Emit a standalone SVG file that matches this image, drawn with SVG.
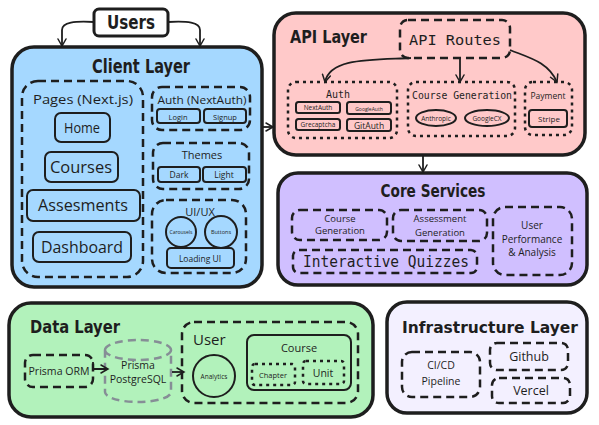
<svg xmlns="http://www.w3.org/2000/svg" width="599" height="425" viewBox="0 0 599 425">
<defs>
<marker id="ah" markerWidth="10" markerHeight="10" refX="8" refY="5" orient="auto" markerUnits="userSpaceOnUse">
<path d="M1,1 L8,5 L1,9" fill="none" stroke="#1e1e1e" stroke-width="1.5" stroke-linecap="round"/>
</marker>
</defs>
<style>
.layer{stroke:#1e1e1e;stroke-width:3.5}
.dash{fill:none;stroke:#1e1e1e;stroke-width:2.5;stroke-dasharray:8 5}
.dot{fill:none;stroke:#1e1e1e;stroke-width:2.5;stroke-dasharray:3 4}
.solid{fill:none;stroke:#1e1e1e;stroke-width:2}
.thin{fill:none;stroke:#1e1e1e;stroke-width:1.5}
.title{font-family:"DejaVu Sans Condensed","DejaVu Sans",sans-serif;font-weight:bold;fill:#1e1e1e}
.hand{font-family:"Open Sans","Liberation Sans",sans-serif;fill:#1e1e1e}
.mono{font-family:"DejaVu Sans Mono","Liberation Mono",monospace;fill:#1e1e1e}
.conn{fill:none;stroke:#1e1e1e;stroke-width:1.8;marker-end:url(#ah)}
</style>
<rect width="599" height="425" fill="#ffffff"/>

<g id="users">
<rect x="94" y="9" width="74" height="27" rx="5" fill="#ffffff" stroke="#1e1e1e" stroke-width="3"/>
<text class="title" x="131" y="29" font-size="19" text-anchor="middle" textLength="48" lengthAdjust="spacingAndGlyphs">Users</text>
</g>

<g id="client-layer">
<rect class="layer" x="12" y="47" width="250" height="240" rx="22" fill="#a5d8ff"/>
<text class="title" x="141" y="73" font-size="19" text-anchor="middle" textLength="98" lengthAdjust="spacingAndGlyphs">Client Layer</text>
<g id="pages">
<rect class="dash" x="22" y="81" width="121" height="196" rx="16"/>
<text class="hand" x="83" y="104" font-size="13" text-anchor="middle" textLength="100" lengthAdjust="spacingAndGlyphs">Pages (Next.js)</text>
</g>
<g id="home"><rect class="solid" x="55" y="113" width="55" height="29" rx="6"/>
<text class="hand" x="82" y="133" font-size="15" text-anchor="middle" textLength="36" lengthAdjust="spacingAndGlyphs">Home</text></g>
<g id="courses"><rect class="solid" x="45" y="152" width="73" height="30" rx="6"/>
<text class="hand" x="81" y="173" font-size="16" text-anchor="middle" textLength="62" lengthAdjust="spacingAndGlyphs">Courses</text></g>
<g id="assesments"><rect class="solid" x="27" y="190" width="113" height="31" rx="6"/>
<text class="hand" x="83" y="211" font-size="16" text-anchor="middle" textLength="90" lengthAdjust="spacingAndGlyphs">Assesments</text></g>
<g id="dashboard"><rect class="solid" x="33" y="232" width="98" height="30" rx="6"/>
<text class="hand" x="82" y="253" font-size="16" text-anchor="middle" textLength="82" lengthAdjust="spacingAndGlyphs">Dashboard</text></g>

<g id="auth-nextauth">
<rect class="dash" x="152" y="87" width="98" height="43" rx="10"/>
<text class="hand" x="202" y="104" font-size="11" text-anchor="middle" textLength="89" lengthAdjust="spacingAndGlyphs">Auth (NextAuth)</text>
</g>
<g id="login"><rect class="solid" x="157" y="109" width="43" height="14" rx="3"/>
<text class="hand" x="178" y="119.5" font-size="7.5" text-anchor="middle">Login</text></g>
<g id="signup"><rect class="solid" x="204" y="109" width="42" height="14" rx="3"/>
<text class="hand" x="225" y="119.5" font-size="7.5" text-anchor="middle">Signup</text></g>

<g id="themes">
<rect class="dash" x="153" y="143" width="96" height="46" rx="10"/>
<text class="hand" x="202" y="159" font-size="11" text-anchor="middle">Themes</text>
</g>
<g id="dark"><rect class="solid" x="158" y="167" width="42" height="15" rx="3"/>
<text class="hand" x="179" y="178" font-size="8.5" text-anchor="middle">Dark</text></g>
<g id="light"><rect class="solid" x="203" y="167" width="43" height="15" rx="3"/>
<text class="hand" x="224" y="178" font-size="8.5" text-anchor="middle">Light</text></g>

<g id="uiux">
<rect class="dash" x="152" y="200" width="94" height="73" rx="14"/>
<text class="hand" x="200" y="216" font-size="11" text-anchor="middle">UI/UX</text>
</g>
<g id="carousels"><circle class="solid" cx="181" cy="232" r="15"/>
<text class="hand" x="181" y="234" font-size="5" text-anchor="middle">Carousels</text></g>
<g id="buttons"><circle class="solid" cx="221" cy="232" r="16"/>
<text class="hand" x="221" y="234" font-size="5.5" text-anchor="middle">Buttons</text></g>
<g id="loading-ui"><rect class="solid" x="167" y="248" width="67" height="20" rx="4"/>
<text class="hand" x="200" y="261.5" font-size="8.5" text-anchor="middle">Loading UI</text></g>
</g>

<g id="api-layer">
<rect class="layer" x="274" y="13" width="311" height="142" rx="22" fill="#ffc9c9"/>
<text class="title" x="290" y="43" font-size="17" textLength="77" lengthAdjust="spacingAndGlyphs">API Layer</text>
<g id="api-routes"><rect class="dash" x="400" y="20" width="110" height="38" rx="8"/>
<text class="mono" x="455" y="45" font-size="14" text-anchor="middle" textLength="92" lengthAdjust="spacingAndGlyphs">API Routes</text></g>
<g id="auth">
<rect class="dot" x="288" y="82" width="109" height="56" rx="8"/>
<text class="mono" x="338" y="98" font-size="10" text-anchor="middle">Auth</text>
</g>
<g id="nextauth"><rect class="solid" x="296" y="102" width="44" height="11" rx="2.5"/>
<text class="hand" x="318" y="110" font-size="6.5" text-anchor="middle">NextAuth</text></g>
<g id="googleauth"><rect class="solid" x="347" y="102" width="44" height="12" rx="2.5"/>
<text class="hand" x="369" y="110.5" font-size="5" text-anchor="middle">GoogleAuth</text></g>
<g id="grecaptcha"><rect class="solid" x="296" y="119" width="44" height="11" rx="2.5"/>
<text class="hand" x="318" y="127" font-size="6.5" text-anchor="middle">Grecaptcha</text></g>
<g id="gitauth"><rect class="solid" x="347" y="119" width="44" height="12" rx="2.5"/>
<text class="hand" x="369" y="128.5" font-size="8.5" text-anchor="middle">GitAuth</text></g>
<g id="course-generation">
<rect class="dot" x="408" y="82" width="107" height="54" rx="8"/>
<text class="mono" x="462" y="99" font-size="10" text-anchor="middle" textLength="100" lengthAdjust="spacingAndGlyphs">Course Generation</text>
</g>
<g id="anthropic"><ellipse class="solid" cx="436" cy="118" rx="20" ry="8"/>
<text class="hand" x="436" y="120.5" font-size="6.5" text-anchor="middle">Anthropic</text></g>
<g id="googlecx"><ellipse class="solid" cx="487" cy="118" rx="22" ry="8"/>
<text class="hand" x="487" y="120.5" font-size="6.5" text-anchor="middle">GoogleCX</text></g>
<g id="payment">
<rect class="dot" x="525" y="82" width="47" height="53" rx="8"/>
<text class="hand" x="548" y="99" font-size="8.5" text-anchor="middle">Payment</text>
</g>
<g id="stripe"><rect class="solid" x="529" y="110" width="38" height="17" rx="3"/>
<text class="hand" x="549" y="121.5" font-size="8" text-anchor="middle">Stripe</text></g>
</g>

<g id="core-services">
<rect class="layer" x="278" y="173" width="309" height="112" rx="20" fill="#d0bfff"/>
<text class="title" x="433" y="197" font-size="17" text-anchor="middle" textLength="105" lengthAdjust="spacingAndGlyphs">Core Services</text>
<g id="core-course-generation"><rect class="dash" x="292" y="210" width="95" height="30" rx="8"/>
<text class="hand" x="340" y="222" font-size="9.5" text-anchor="middle">Course</text>
<text class="hand" x="340" y="234" font-size="9.5" text-anchor="middle">Generation</text></g>
<g id="assessment-generation"><rect class="dash" x="393" y="210" width="94" height="31" rx="8"/>
<text class="hand" x="440" y="222" font-size="9.5" text-anchor="middle">Assessment</text>
<text class="hand" x="440" y="236" font-size="9.5" text-anchor="middle">Generation</text></g>
<g id="user-performance"><rect class="dash" x="493" y="207" width="79" height="68" rx="12"/>
<text class="hand" x="532" y="229" font-size="10" text-anchor="middle">User</text>
<text class="hand" x="532" y="243" font-size="10" text-anchor="middle">Performance</text>
<text class="hand" x="532" y="256" font-size="10" text-anchor="middle">&amp; Analysis</text></g>
<g id="interactive-quizzes"><rect class="dash" x="293" y="250" width="184" height="23" rx="6"/>
<text class="mono" x="386" y="267" font-size="15" text-anchor="middle" textLength="166" lengthAdjust="spacingAndGlyphs">Interactive Quizzes</text></g>
</g>

<g id="data-layer">
<rect class="layer" x="9" y="303" width="364" height="114" rx="22" fill="#b2f2bb"/>
<text class="title" x="30" y="333" font-size="17" textLength="90" lengthAdjust="spacingAndGlyphs">Data Layer</text>
<g id="prisma-orm"><rect class="dash" x="25" y="355" width="68" height="32" rx="8"/>
<text class="hand" x="59" y="374.5" font-size="10" text-anchor="middle" textLength="61" lengthAdjust="spacingAndGlyphs">Prisma ORM</text></g>
<g id="prisma-postgresql">
<path d="M105,350 A33,10 0 0 1 171,350 L171,392 A33,10 0 0 1 105,392 Z M105,350 A33,10 0 0 0 171,350" fill="none" stroke="#868e96" stroke-width="2.5" stroke-dasharray="8 5"/>
<text class="hand" x="138" y="369" font-size="10.5" text-anchor="middle">Prisma</text>
<text class="hand" x="138" y="383" font-size="10.5" text-anchor="middle">PostgreSQL</text>
</g>
<g id="user"><rect class="dash" x="182" y="322" width="176" height="81" rx="12"/>
<text class="hand" x="193" y="345" font-size="15">User</text></g>
<g id="analytics"><circle class="solid" cx="214" cy="376" r="21"/>
<text class="hand" x="214" y="378.5" font-size="6.5" text-anchor="middle">Analytics</text></g>
<g id="course"><rect class="solid" x="247" y="335" width="104" height="55" rx="7"/>
<text class="hand" x="299" y="352" font-size="11" text-anchor="middle">Course</text></g>
<g id="chapter"><rect class="dot" x="252" y="364" width="43" height="21" rx="3"/>
<text class="hand" x="273" y="377.5" font-size="7.5" text-anchor="middle">Chapter</text></g>
<g id="unit"><rect class="dot" x="303" y="361" width="41" height="23" rx="3"/>
<text class="hand" x="323" y="376.5" font-size="10.5" text-anchor="middle">Unit</text></g>
</g>

<g id="infrastructure-layer">
<rect class="layer" x="387" y="302" width="200" height="111" rx="20" fill="#f3f0ff"/>
<text class="title" x="490" y="333" font-size="16" text-anchor="middle" textLength="176" lengthAdjust="spacingAndGlyphs">Infrastructure Layer</text>
<g id="cicd"><rect class="dash" x="402" y="352" width="78" height="45" rx="10"/>
<text class="hand" x="441" y="369" font-size="10.5" text-anchor="middle">CI/CD</text>
<text class="hand" x="441" y="385" font-size="10.5" text-anchor="middle">Pipeline</text></g>
<g id="github"><rect class="dash" x="490" y="343" width="78" height="27" rx="7"/>
<text class="hand" x="529" y="361" font-size="12.5" text-anchor="middle">Github</text></g>
<g id="vercel"><rect class="dash" x="492" y="378" width="78" height="25" rx="7"/>
<text class="hand" x="531" y="395" font-size="12.5" text-anchor="middle">Vercel</text></g>
</g>

<g id="connectors">
<path class="conn" d="M94,22 C75,21 62,22 62,30 L62,46"/>
<path class="conn" d="M168,22 C187,21 200,22 200,30 L200,46"/>
<path class="conn" d="M262,127 L273,127"/>
<path class="conn" d="M411,58 C370,60 330,58 325,82"/>
<path class="conn" d="M460,58 L460,82"/>
<path class="conn" d="M510,50 C530,58 548,62 557,82"/>
<path class="conn" d="M423,155 L423,172"/>
<path class="conn" d="M93,362 L93,369 L108,369"/>
<path class="conn" d="M172,372 L184,372"/>
</g>
</svg>
